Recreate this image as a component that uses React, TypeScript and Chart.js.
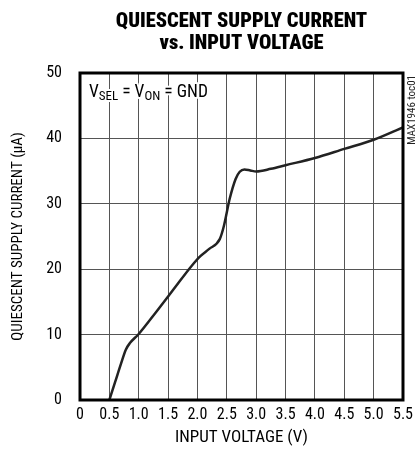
import React, { useEffect, useRef } from "react";
import { Chart, registerables } from "chart.js";

Chart.register(...registerables);

const voltage = [0.5, 0.6, 0.7, 0.78, 0.85, 1.0, 1.3, 1.6, 1.9, 2.05, 2.2, 2.38, 2.45, 2.55, 2.65, 2.72, 2.8, 2.9, 3.0, 3.25, 3.5, 4.0, 4.5, 5.0, 5.5];
const current = [0, 2.8, 5.6, 7.7, 8.7, 10.1, 13.5, 17.0, 20.5, 22.0, 23.1, 24.6, 26.6, 30.8, 33.8, 34.9, 35.25, 35.1, 34.95, 35.35, 35.9, 37.0, 38.4, 39.8, 41.7];

const titleLines = ["QUIESCENT SUPPLY CURRENT", "vs. INPUT VOLTAGE"];
const xTitle = "INPUT VOLTAGE (V)";
const yTitle = "QUIESCENT SUPPLY CURRENT (\u03bcA)";
const sideNote = "MAX1946 toc01";
const insetParts: [string, boolean][] = [["V", false], ["SEL", true], [" = V", false], ["ON", true], [" = GND", false]];

const FONT = "'Roboto Condensed', 'DejaVu Sans Condensed', sans-serif";
const TITLE_FONT = "'Roboto Condensed', 'Open Sans Condensed', sans-serif";

const decorPlugin = {
  id: "decor",
  afterDraw(chart: any) {
    const { ctx, chartArea } = chart;
    const { left, right, top, bottom } = chartArea;
    ctx.save();
    // border
    ctx.strokeStyle = "#000";
    ctx.lineWidth = 3;
    ctx.strokeRect(left, top, right - left, bottom - top);
    // title
    ctx.fillStyle = "#000";
    ctx.textAlign = "center";
    ctx.textBaseline = "middle";
    ctx.font = `900 20.5px ${TITLE_FONT}`;
    const cx = (left + right) / 2;
    ctx.fillText(titleLines[0], cx, 22);
    ctx.fillText(titleLines[1], cx, 44);
    // inset label
    let x = left + 9;
    const baseY = 97;
    ctx.textAlign = "left";
    ctx.textBaseline = "alphabetic";
    for (const [txt, sub] of insetParts) {
      ctx.font = sub ? `13px ${FONT}` : `17.5px ${FONT}`;
      const y = sub ? baseY + 3 : baseY;
      ctx.lineWidth = 4;
      ctx.strokeStyle = "#fff";
      ctx.lineJoin = "round";
      ctx.strokeText(txt, x, y);
      ctx.fillText(txt, x, y);
      x += ctx.measureText(txt).width;
    }
    // side note
    ctx.translate(412, top + 2);
    ctx.rotate(-Math.PI / 2);
    ctx.font = `11px ${FONT}`;
    ctx.textAlign = "right";
    ctx.textBaseline = "middle";
    ctx.fillStyle = "#222";
    ctx.fillText(sideNote, 0, 0);
    ctx.restore();
  },
};

export default function App() {
  const ref = useRef<HTMLCanvasElement | null>(null);
  useEffect(() => {
    if (!ref.current) return;
    Chart.defaults.font.family = FONT;
    Chart.defaults.color = "#000";
    const chart = new Chart(ref.current, {
      type: "line",
      data: {
        datasets: [
          {
            data: voltage.map((v, i) => ({ x: v, y: current[i] })),
            borderColor: "#222",
            borderWidth: 2.5,
            pointRadius: 0,
            cubicInterpolationMode: "monotone",
            fill: false,
          },
        ],
      },
      options: {
        animation: false,
        responsive: false,
        devicePixelRatio: 1,
        layout: { padding: { top: 73, right: 13, left: 0, bottom: 0 } },
        plugins: { legend: { display: false }, tooltip: { enabled: false } },
        scales: {
          x: {
            type: "linear",
            min: 0,
            max: 5.5,
            afterFit: (s: any) => { s.height = 57; },
            ticks: {
              stepSize: 0.5,
              padding: 5,
              font: { size: 16 },
              color: "#000",
              maxRotation: 0,
              autoSkip: false,
              callback: (v: any) => (Number(v) === 0 ? "0" : Number(v).toFixed(1)),
            },
            grid: { color: "#555", lineWidth: 1, drawTicks: false },
            border: { display: false },
            title: { display: true, text: xTitle, font: { size: 17 }, color: "#000", padding: { top: 0, bottom: 9 } },
          },
          y: {
            min: 0,
            max: 50,
            afterFit: (s: any) => { s.width = 80; },
            ticks: { stepSize: 10, padding: 18, font: { size: 16 }, color: "#000" },
            grid: { color: "#555", lineWidth: 1, drawTicks: false },
            border: { display: false },
            title: { display: true, text: yTitle, font: { size: 15 }, color: "#000", padding: { top: 9, bottom: 0 } },
          },
        },
      },
      plugins: [decorPlugin],
    } as any);
    return () => chart.destroy();
  }, []);
  return (
    <div style={{ position: "fixed", left: 0, top: 0, width: 418, height: 457, background: "#fff" }}>
      <canvas ref={ref} width={418} height={457} />
    </div>
  );
}
